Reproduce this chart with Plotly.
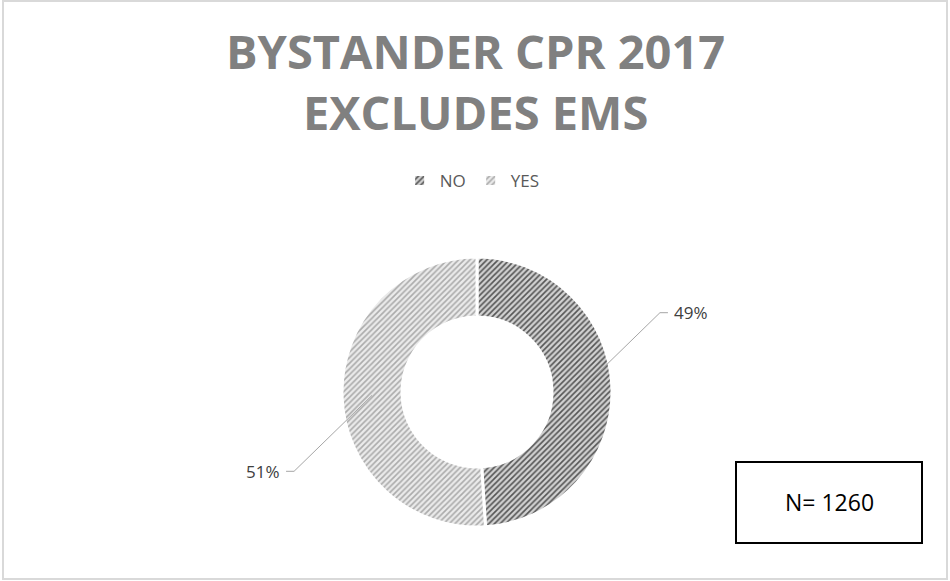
import math
import plotly.graph_objects as go

labels = ["NO", "YES"]
values = [49, 51]
title_lines = ["BYSTANDER CPR 2017", "EXCLUDES EMS"]
n_text = "N= 1260"

W, H = 950, 581
cx, cy, r_out, r_in = 477, 392, 135, 75  # donut in pixels


def px(x):
    return x / W


def py(y):
    return 1 - y / H


fig = go.Figure(go.Pie(
    labels=labels,
    values=values,
    hole=r_in / r_out,
    sort=False,
    direction="clockwise",
    rotation=0,
    textinfo="none",
    hoverinfo="label+percent",
    domain={"x": [px(cx - r_out), px(cx + r_out)], "y": [py(cy + r_out), py(cy - r_out)]},
    marker={
        "colors": ["#cfcfcf", "#ebebeb"],
        "line": {"color": "white", "width": 3},
        "pattern": {
            "shape": "/",
            "fgcolor": ["#555555", "#ababab"],
            "bgcolor": ["#d2d2d2", "#ebebeb"],
            "size": 4,
            "solidity": 0.4,
        },
    },
))

# leader lines + percent labels, from the slice mid angles
total = sum(values)
shapes = []
annotations = []
start = 0
r_mid = (r_out + r_in) / 2
for lab, v in zip(labels, values):
    mid = (start + v / 2) / total * 2 * math.pi
    start += v
    x0 = cx + r_mid * math.sin(mid)
    y0 = cy - r_mid * math.cos(mid)
    s = 1 if math.sin(mid) >= 0 else -1
    x1, y1 = x0 + s * 78, y0 - s * 76
    x2 = x1 + s * 8
    shapes.append(dict(type="path", xref="paper", yref="paper",
                       path=f"M {px(x0)} {py(y0)} L {px(x1)} {py(y1)} L {px(x2)} {py(y1)}",
                       line={"color": "#a6a6a6", "width": 1}))
    annotations.append(dict(x=px(x2 + s * 4), y=py(y1), xref="paper", yref="paper",
                            text=f"{round(v / total * 100)}%", showarrow=False,
                            xanchor="left" if s > 0 else "right", yanchor="middle",
                            font={"size": 17, "color": "#404040"}))

# title
annotations.append(dict(x=0.5, y=py(81), xref="paper", yref="paper",
                        text="<br>".join(title_lines), showarrow=False,
                        xanchor="center", yanchor="middle",
                        font={"size": 47, "color": "#808080", "weight": "bold"}))

# N box
shapes.append(dict(type="rect", xref="paper", yref="paper",
                   x0=px(736), x1=px(922), y0=py(543), y1=py(462),
                   line={"color": "black", "width": 2}, fillcolor="white"))
annotations.append(dict(x=px(829), y=py(502), xref="paper", yref="paper",
                        text=n_text, showarrow=False,
                        xanchor="center", yanchor="middle",
                        font={"size": 23, "color": "black"}))

# chart border
shapes.append(dict(type="rect", xref="paper", yref="paper",
                   x0=px(3), x1=px(947), y0=py(579), y1=py(1),
                   line={"color": "#d9d9d9", "width": 2}))

fig.update_layout(
    width=W,
    height=H,
    margin={"l": 0, "r": 0, "t": 0, "b": 0},
    paper_bgcolor="white",
    font={"family": "Open Sans, sans-serif", "color": "#595959"},
    legend={
        "orientation": "h",
        "x": 0.497,
        "xanchor": "center",
        "y": py(181),
        "yanchor": "middle",
        "font": {"size": 17, "color": "#595959"},
        "itemwidth": 30,
    },
    shapes=shapes,
    annotations=annotations,
)

fig.write_html("out.html", config={"displayModeBar": False},
               post_script="document.body.style.margin='0';")
